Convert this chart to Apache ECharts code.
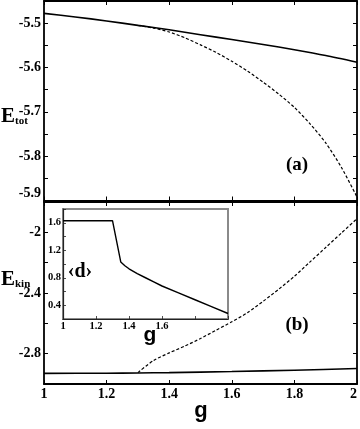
<!DOCTYPE html>
<html>
<head>
<meta charset="utf-8">
<script src="https://cdn.jsdelivr.net/npm/echarts@6/dist/echarts.min.js"></script>
<style>html,body{margin:0;padding:0;background:#fff}#c{width:360px;height:429px}</style>
</head>
<body>
<div id="c"></div>
<script>
// ---- data ----
const gTop = [1, 1.1, 1.2, 1.3, 1.4, 1.5, 1.6, 1.7, 1.8, 1.9, 2];
const etotSolid = [-5.478, -5.486, -5.495, -5.505, -5.515, -5.526, -5.537, -5.548, -5.560, -5.573, -5.588];
const gTopDash = [1.3, 1.35, 1.4, 1.45, 1.5, 1.55, 1.6, 1.65, 1.7, 1.75, 1.8, 1.85, 1.9, 1.95, 2];
const etotDash = [-5.505, -5.511, -5.520, -5.533, -5.549, -5.566, -5.586, -5.608, -5.633, -5.660, -5.690, -5.727, -5.770, -5.825, -5.892];

const gBot = [1, 1.2, 1.3, 1.4, 1.6, 1.8, 2];
const ekinSolid = [-2.930, -2.929, -2.927, -2.925, -2.918, -2.909, -2.898];
const gBotDash = [1.3, 1.35, 1.4, 1.45, 1.5, 1.55, 1.6, 1.65, 1.7, 1.75, 1.8, 1.85, 1.9, 1.95, 2];
const ekinDash = [-2.925, -2.845, -2.795, -2.750, -2.700, -2.645, -2.590, -2.530, -2.455, -2.375, -2.290, -2.195, -2.100, -2.005, -1.910];

const gInset = [1, 1.1, 1.2, 1.3, 1.35, 1.375, 1.4, 1.45, 1.5, 1.55, 1.6, 1.7, 1.8, 1.9, 2];
const dInset = [1.63, 1.63, 1.63, 1.63, 1.03, 0.975, 0.93, 0.86, 0.80, 0.74, 0.68, 0.58, 0.48, 0.38, 0.28];

const topYLabels = [-5.5, -5.6, -5.7, -5.8, -5.9];
const botYLabels = [-2, -2.4, -2.8];
const xLabels = [1, 1.2, 1.4, 1.6, 1.8, 2];
const insetXLabels = [1, 1.2, 1.4, 1.6];
const insetYLabels = [0.4, 0.8, 1.2, 1.6];

// ---- helpers ----
const zip = (xs, ys) => xs.map((x, i) => [x, ys[i]]);
const inList = (list) => (v) => list.some(t => Math.abs(t - v) < 1e-6);
const serif = 'Liberation Serif, Times New Roman, serif';
const sans = 'Liberation Sans, Arial, sans-serif';

function axisBase(extra) {
  return Object.assign({
    type: 'value',
    axisLine: { show: true, lineStyle: { color: '#000', width: 1.8 } },
    axisTick: { show: true, inside: true, length: 4, lineStyle: { color: '#000', width: 1 } },
    splitLine: { show: false },
    axisLabel: { show: false },
    axisPointer: { show: false }
  }, extra);
}

const topXLabel = inList(xLabels);
const option = {
  animation: false,
  backgroundColor: '#fff',
  grid: [
    { left: 44, right: 3, top: 1, height: 199.5, outerBoundsMode: 'none', containLabel: false },
    { left: 44, right: 3, top: 202, bottom: 45, outerBoundsMode: 'none', containLabel: false },
    { left: 63, top: 209, width: 165, height: 110, outerBoundsMode: 'none', containLabel: false,
      show: true, backgroundColor: '#fff', borderColor: '#8a8a8a', borderWidth: 2, z: 5 }
  ],
  xAxis: [
    axisBase({ gridIndex: 0, position: 'bottom', min: 1, max: 2, interval: 0.2 }),
    axisBase({ gridIndex: 0, position: 'top', min: 1, max: 2, interval: 0.2 }),
    axisBase({ gridIndex: 1, position: 'bottom', min: 1, max: 2, interval: 0.2,
      axisLabel: { show: true, margin: 3, color: '#000', fontFamily: serif, fontWeight: 'bold', fontSize: 14,
        alignMaxLabel: 'right',
        formatter: v => topXLabel(v) ? String(Math.round(v * 10) / 10) : '' } }),
    axisBase({ gridIndex: 1, position: 'top', min: 1, max: 2, interval: 0.2 }),
    axisBase({ gridIndex: 2, position: 'bottom', min: 1, max: 2, interval: 0.2, z: 10,
      axisLine: { show: true, lineStyle: { color: '#222', width: 1.2 } },
      axisTick: { show: true, inside: true, length: 3, lineStyle: { color: '#222', width: 0.8 } },
      axisLabel: { show: true, margin: 2, color: '#000', fontFamily: serif, fontWeight: 'bold', fontSize: 10.5,
        formatter: v => inList(insetXLabels)(v) ? String(Math.round(v * 10) / 10) : '' } })
  ],
  yAxis: [
    axisBase({ gridIndex: 0, position: 'left', min: -5.9, max: -5.45, interval: 0.05,
      axisLabel: { show: true, margin: 3, color: '#000', fontFamily: serif, fontWeight: 'bold', fontSize: 14,
        verticalAlignMinLabel: 'bottom',
        formatter: v => inList(topYLabels)(v) ? v.toFixed(1) : '' } }),
    axisBase({ gridIndex: 0, position: 'right', min: -5.9, max: -5.45, interval: 0.05 }),
    axisBase({ gridIndex: 1, position: 'left', min: -3, max: -1.8, interval: 0.2,
      axisLabel: { show: true, margin: 3, color: '#000', fontFamily: serif, fontWeight: 'bold', fontSize: 14,
        formatter: v => inList(botYLabels)(v) ? String(Math.round(v * 10) / 10) : '' } }),
    axisBase({ gridIndex: 1, position: 'right', min: -3, max: -1.8, interval: 0.2 }),
    axisBase({ gridIndex: 2, position: 'left', min: 0.2, max: 1.8, interval: 0.2, z: 10,
      axisLine: { show: true, lineStyle: { color: '#222', width: 1.2 } },
      axisTick: { show: true, inside: true, length: 3, lineStyle: { color: '#222', width: 0.8 } },
      axisLabel: { show: true, margin: 2, color: '#000', fontFamily: serif, fontWeight: 'bold', fontSize: 10.5,
        formatter: v => inList(insetYLabels)(v) ? v.toFixed(1) : '' } })
  ],
  series: [
    { type: 'line', xAxisIndex: 0, yAxisIndex: 0, data: zip(gTop, etotSolid), smooth: 0.25, showSymbol: false,
      lineStyle: { color: '#000', width: 1.6 }, z: 3 },
    { type: 'line', xAxisIndex: 0, yAxisIndex: 0, data: zip(gTopDash, etotDash), smooth: 0.25, showSymbol: false,
      lineStyle: { color: '#000', width: 1.2, type: [3, 2] }, z: 3 },
    { type: 'line', xAxisIndex: 2, yAxisIndex: 2, data: zip(gBot, ekinSolid), smooth: 0.25, showSymbol: false,
      lineStyle: { color: '#000', width: 1.6 }, z: 3 },
    { type: 'line', xAxisIndex: 2, yAxisIndex: 2, data: zip(gBotDash, ekinDash), smooth: 0.25, showSymbol: false,
      lineStyle: { color: '#000', width: 1.2, type: [3, 2] }, z: 3 },
    { type: 'line', xAxisIndex: 4, yAxisIndex: 4, data: zip(gInset, dInset), smooth: false, showSymbol: false,
      lineStyle: { color: '#000', width: 1.4 }, z: 12 }
  ],
  graphic: [
    { type: 'text', left: 1, top: 106, z: 20, style: { text: '{E|E}{s|tot}', rich: {
        E: { fontFamily: serif, fontWeight: 'bold', fontSize: 21, fill: '#000', verticalAlign: 'bottom' },
        s: { fontFamily: serif, fontWeight: 'bold', fontSize: 11, fill: '#000', verticalAlign: 'bottom' } } } },
    { type: 'text', left: 1, top: 269, z: 20, style: { text: '{E|E}{s|kin}', rich: {
        E: { fontFamily: serif, fontWeight: 'bold', fontSize: 21, fill: '#000', verticalAlign: 'bottom' },
        s: { fontFamily: serif, fontWeight: 'bold', fontSize: 11, fill: '#000', verticalAlign: 'bottom' } } } },
    { type: 'text', x: 297, y: 165, z: 20, style: { text: '(a)', fontFamily: serif, fontWeight: 'bold', fontSize: 19,
        fill: '#000', align: 'center', verticalAlign: 'middle' } },
    { type: 'text', x: 297, y: 325, z: 20, style: { text: '(b)', fontFamily: serif, fontWeight: 'bold', fontSize: 19,
        fill: '#000', align: 'center', verticalAlign: 'middle' } },
    { type: 'text', x: 80, y: 272, z: 20, style: { text: '‹d›', fontFamily: serif, fontWeight: 'bold', fontSize: 20,
        fill: '#000', align: 'center', verticalAlign: 'middle' } },
    { type: 'text', x: 201, y: 411, z: 20, style: { text: 'g', fontFamily: sans, fontWeight: 'bold', fontSize: 22,
        fill: '#000', align: 'center', verticalAlign: 'middle' } },
    { type: 'text', x: 150, y: 335, z: 20, style: { text: 'g', fontFamily: sans, fontWeight: 'bold', fontSize: 21,
        fill: '#000', align: 'center', verticalAlign: 'middle' } }
  ]
};
const chart = echarts.init(document.getElementById('c'), null, { renderer: 'canvas' });
chart.setOption(option);
</script>
</body>
</html>
